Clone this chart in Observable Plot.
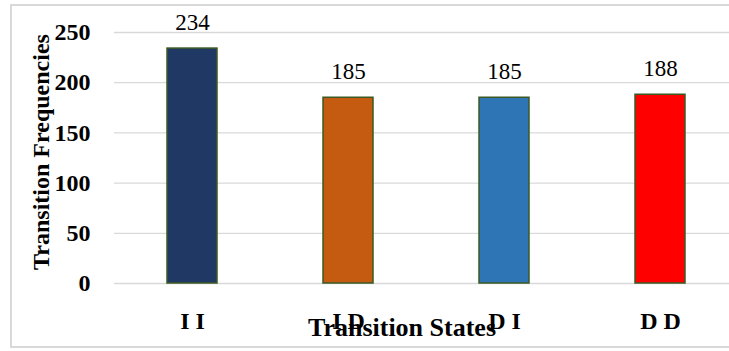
<!DOCTYPE html>
<html>
<head>
<meta charset="utf-8">
<script src="https://cdn.jsdelivr.net/npm/d3@7"></script>
<script src="https://cdn.jsdelivr.net/npm/@observablehq/plot@0.6"></script>
<style>
  html, body { margin: 0; padding: 0; background: #fff; overflow: hidden; }
  #wrap { position: relative; width: 729px; height: 351px; overflow: hidden; }
  #border { position: absolute; left: 10px; top: 4px; width: 800px; height: 344px; border: 2px solid #d9d9d9; box-sizing: border-box; }
  #chart { position: absolute; left: 0; top: 0; }
  svg, svg text { font-family: "Liberation Serif", "Times New Roman", serif !important; }
</style>
</head>
<body>
<div id="wrap"><div id="border"></div><div id="chart"></div></div>
<script>
const states = ["I I", "I D", "D I", "D D"];
const frequencies = [234, 185, 185, 188];
const barColors = ["#203864", "#C55A11", "#2E75B6", "#FF0000"];
const yTicks = [0, 50, 100, 150, 200, 250];
const xTitle = "Transition States";
const yTitle = "Transition Frequencies";

const data = states.map((s, i) => ({state: s, value: frequencies[i]}));
const serif = "Liberation Serif";

const chart = Plot.plot({
  width: 729,
  height: 351,
  marginTop: 32,
  marginBottom: 68,
  marginLeft: 114,
  marginRight: 0,
  style: {background: "transparent", fontFamily: serif, overflow: "visible"},
  x: {domain: states, range: [114, 738], paddingInner: 0.68, paddingOuter: 0.34, label: null},
  y: {domain: [0, 250], label: null},
  color: {domain: states, range: barColors},
  marks: [
    Plot.ruleY(yTicks, {stroke: "#d9d9d9", strokeWidth: 1.3}),
    Plot.barY(data, {x: "state", y: "value", fill: "state", stroke: "#3b5a23", strokeWidth: 1.5}),
    Plot.text(data, {x: "state", y: "value", text: d => String(d.value), dy: -26, lineAnchor: "middle", fontSize: 23, fontFamily: serif, fill: "#000"}),
    Plot.axisY(yTicks, {tickSize: 0, tickPadding: 24, fontSize: 24, fontWeight: "bold", fontFamily: serif, label: null, fill: "#000"}),
    Plot.axisX({tickSize: 0, tickPadding: 28, fontSize: 24, fontWeight: "bold", fontFamily: serif, label: null, fill: "#000"}),
    Plot.text([xTitle], {frameAnchor: "bottom", text: d => d, dx: -20, dy: 34, lineAnchor: "top", fontSize: 26, fontWeight: "bold", fontFamily: serif, fill: "#000"}),
    Plot.text([yTitle], {frameAnchor: "left", text: d => d, rotate: -90, dx: -73, dy: -6, textAnchor: "middle", lineAnchor: "middle", fontSize: 24, fontWeight: "bold", fontFamily: serif, fill: "#000"})
  ]
});
document.getElementById("chart").appendChild(chart);
</script>
</body>
</html>
